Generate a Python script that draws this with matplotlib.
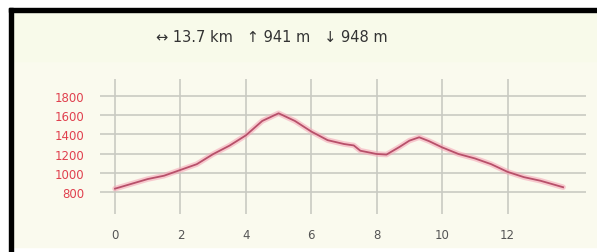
import matplotlib
matplotlib.use('Agg')
import matplotlib.pyplot as plt
from matplotlib.patches import Rectangle

# elevation profile
dist_km = [0, 0.5, 1, 1.5, 2, 2.5, 3, 3.5, 4, 4.5, 5, 5.5, 6, 6.5, 7, 7.3, 7.5,
           8, 8.3, 8.7, 9, 9.3, 9.6, 10, 10.5, 11, 11.5, 12, 12.5, 13, 13.7]
elev_m = [835, 885, 935, 970, 1030, 1090, 1195, 1283, 1390, 1540, 1620, 1540, 1430,
          1340, 1300, 1285, 1230, 1196, 1190, 1270, 1335, 1370, 1330, 1265, 1196,
          1150, 1090, 1010, 955, 918, 850]
x_ticks = [0, 2, 4, 6, 8, 10, 12]
y_ticks = [800, 1000, 1200, 1400, 1600, 1800]
summary = "\u2194 13.7 km   \u2191 941 m   \u2193 948 m"

W, H = 597, 253
fig = plt.figure(figsize=(W / 100, H / 100), dpi=100)
fig.patch.set_facecolor('white')

def px_rect(x0, y0, x1, y1, color):
    # rectangle in pixel coords measured from the top-left corner
    fig.patches.append(Rectangle((x0 / W, 1 - y1 / H), (x1 - x0) / W, (y1 - y0) / H,
                                 transform=fig.transFigure, color=color, zorder=-5))

px_rect(13, 13, W, 248, '#fafaee')
px_rect(13, 13, W, 62, '#f8faea')
px_rect(9, 9, W, 13, 'black')
px_rect(9, 9, 13, H, 'black')

ax = fig.add_axes([100 / W, 1 - 215 / H, 486 / W, 135 / H])
ax.set_zorder(3)
ax.set_facecolor('none')
ax.set_xlim(-0.46, 14.4)
ax.set_ylim(571, 1977)

ax.set_xticks(x_ticks)
ax.set_yticks(y_ticks)
ax.grid(True, color='#c9cac2', linewidth=1.2)
ax.set_axisbelow(True)
for s in ax.spines.values():
    s.set_visible(False)
ax.tick_params(length=0)
ax.tick_params(axis='y', pad=11, labelsize=8.5, labelcolor='#e0404e')
ax.tick_params(axis='x', pad=10, labelsize=8.5, labelcolor='#555555')

# pink halo plus the darker profile line
ax.plot(dist_km, elev_m, color='#f6a8b8', linewidth=4, alpha=0.6, solid_capstyle='round')
ax.plot(dist_km, elev_m, color='#b8506a', linewidth=1.3)

fig.text(272 / W, 1 - 37 / H, summary, ha='center', va='center',
         fontsize=10.5, color='#333333', zorder=4)

fig.savefig('out.png', dpi=100)
